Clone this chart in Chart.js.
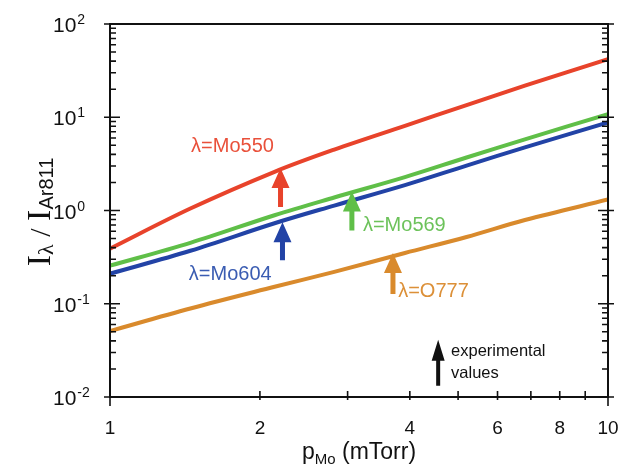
<!DOCTYPE html>
<html><head><meta charset="utf-8">
<script src="https://cdn.jsdelivr.net/npm/chart.js@4/dist/chart.umd.min.js"></script>
<style>html,body{margin:0;padding:0;background:#fff}#wrap{width:618px;height:470px;position:relative}</style>
</head><body><div id="wrap"><canvas id="c"></canvas></div>
<script>
// ---- data ----
const pressure = [1, 1.45, 2.14, 2.82, 3.91, 5.2, 6.81, 10];          // p_Mo (mTorr)
const mo550 = [0.39, 1.05, 2.6, 4.5, 8.1, 13.5, 21.8, 42];
const mo569 = [0.256, 0.45, 0.89, 1.38, 2.28, 3.7, 5.8, 10.8];
const mo604 = [0.21, 0.37, 0.73, 1.13, 1.87, 3.03, 4.75, 8.8];
const o777  = [0.051, 0.089, 0.152, 0.22, 0.35, 0.52, 0.79, 1.31];
const seriesNames = ['λ=Mo550', 'λ=Mo569', 'λ=Mo604', 'λ=O777'];
const xTickLabels = [1, 2, 4, 6, 8, 10];
const xMinorTicks = [3, 5, 7, 9];
const yTickExponents = [2, 1, 0, -1, -2];
// experimental values (arrow tips)
const expP    = [2.2, 3.06, 2.22, 3.7];
const expVal  = [2.85, 1.6, 0.75, 0.35];
const legendArrowP = 4.56, legendArrowVal = 0.041;
// label anchor positions (data coordinates)
const lblP = [1.455, 3.22, 1.44, 3.79];
const lblV = [4.87, 0.69, 0.205, 0.1346];

const colors = ['#e8432b', '#5fbf48', '#2243a6', '#d98a2c'];
const textColors = ['#e9503a', '#6cc25a', '#3a5cb2', '#dc9038'];
const seriesData = [mo550, mo569, mo604, o777];

const datasets = seriesData.map((arr, i) => ({
  label: seriesNames[i],
  data: pressure.map((p, j) => ({x: p, y: arr[j]})),
  borderColor: colors[i],
  borderWidth: 4,
  pointRadius: 0,
  fill: false,
  tension: 0.35
}));

function drawArrow(ctx, x, yTip, len, headH, headW, shaftW, color) {
  ctx.save();
  ctx.fillStyle = color;
  ctx.beginPath();
  ctx.moveTo(x, yTip);
  ctx.lineTo(x + headW / 2, yTip + headH);
  ctx.lineTo(x + shaftW / 2, yTip + headH);
  ctx.lineTo(x + shaftW / 2, yTip + len);
  ctx.lineTo(x - shaftW / 2, yTip + len);
  ctx.lineTo(x - shaftW / 2, yTip + headH);
  ctx.lineTo(x - headW / 2, yTip + headH);
  ctx.closePath();
  ctx.fill();
  ctx.restore();
}

const decor = {
  id: 'decor',
  afterDatasetsDraw(chart) {
    const {ctx, chartArea: a, scales: {x, y}} = chart;
    ctx.save();
    // frame
    ctx.strokeStyle = '#111';
    ctx.lineWidth = 2;
    ctx.strokeRect(a.left, a.top, a.right - a.left, a.bottom - a.top);
    ctx.lineWidth = 1.6;
    // y ticks (left and right, inward)
    for (let e = -2; e <= 2; e++) {
      for (let m = 1; m <= 9; m++) {
        const v = m * Math.pow(10, e);
        if (v > 100.0001) break;
        const py = y.getPixelForValue(v);
        const major = m === 1;
        const inL = major ? 10 : 6, outL = major ? 6 : 0;
        ctx.beginPath();
        ctx.moveTo(a.left - outL, py); ctx.lineTo(a.left + inL, py);
        ctx.moveTo(a.right + outL, py); ctx.lineTo(a.right - inL, py);
        ctx.stroke();
      }
    }
    // x ticks (bottom)
    const allX = xTickLabels.concat(xMinorTicks);
    allX.forEach(v => {
      const px = x.getPixelForValue(v);
      const out = (v === 1 || v === 10) ? 9 : 3;
      ctx.beginPath();
      ctx.moveTo(px, a.bottom - 6); ctx.lineTo(px, a.bottom + out);
      ctx.stroke();
    });
    // x tick labels
    ctx.fillStyle = '#111';
    ctx.font = '19px "Liberation Sans", Arial, sans-serif';
    ctx.textAlign = 'center';
    ctx.textBaseline = 'middle';
    xTickLabels.forEach(v => {
      ctx.fillText(String(v), x.getPixelForValue(v), a.bottom + 32);
    });
    // y tick labels with superscripts
    ctx.textAlign = 'left';
    ctx.textBaseline = 'alphabetic';
    yTickExponents.forEach(e => {
      const py = y.getPixelForValue(Math.pow(10, e));
      ctx.font = '21px "Liberation Sans", Arial, sans-serif';
      ctx.fillText('10', 53, py + 8);
      const w = ctx.measureText('10').width;
      ctx.font = '14px "Liberation Sans", Arial, sans-serif';
      ctx.fillText(e < 0 ? '-' + (-e) : String(e), 53 + w + 1, py);
    });
    // x title
    const parts = [
      {t: 'p', f: '23px "Liberation Sans", Arial, sans-serif', dy: 0},
      {t: 'Mo', f: '15px "Liberation Sans", Arial, sans-serif', dy: 5},
      {t: ' (mTorr)', f: '23px "Liberation Sans", Arial, sans-serif', dy: 0}
    ];
    let tw = 0;
    parts.forEach(p => { ctx.font = p.f; p.w = ctx.measureText(p.t).width; tw += p.w; });
    let cx = (a.left + a.right) / 2 - tw / 2;
    parts.forEach(p => { ctx.font = p.f; ctx.fillText(p.t, cx, 459 + p.dy); cx += p.w; });
    // y title (rotated)
    ctx.save();
    ctx.translate(50, 212);
    ctx.rotate(-Math.PI / 2);
    const yp = [
      {t: 'I', f: '34px "Liberation Serif", "Times New Roman", serif', dy: 0},
      {t: 'λ', f: '22px "Liberation Serif", "Times New Roman", serif', dy: 3},
      {t: ' / ', f: '30px "Liberation Serif", "Times New Roman", serif', dy: 0},
      {t: 'I', f: '34px "Liberation Serif", "Times New Roman", serif', dy: 0},
      {t: 'Ar811', f: '20px "Liberation Sans", Arial, sans-serif', dy: 3}
    ];
    tw = 0;
    yp.forEach(p => { ctx.font = p.f; p.w = ctx.measureText(p.t).width; tw += p.w; });
    cx = -tw / 2;
    yp.forEach(p => { ctx.font = p.f; ctx.fillText(p.t, cx, p.dy); cx += p.w; });
    ctx.restore();

    // experimental-value arrows
    const lens = [39, 39, 38, 41];
    expP.forEach((p, i) => {
      drawArrow(ctx, x.getPixelForValue(p), y.getPixelForValue(expVal[i]), lens[i], 20, 18, 5, colors[i]);
    });
    // series labels
    ctx.font = '20px "Liberation Sans", Arial, sans-serif';
    ctx.textBaseline = 'middle';
    ctx.textAlign = 'left';
    seriesNames.forEach((n, i) => {
      ctx.fillStyle = textColors[i];
      ctx.fillText(n, x.getPixelForValue(lblP[i]), y.getPixelForValue(lblV[i]));
    });
    // legend arrow
    drawArrow(ctx, x.getPixelForValue(legendArrowP), y.getPixelForValue(legendArrowVal), 46, 21, 13, 4, '#111');
    ctx.fillStyle = '#111';
    ctx.font = '16.5px "Liberation Sans", Arial, sans-serif';
    ctx.fillText('experimental', x.getPixelForValue(4.84), y.getPixelForValue(0.0305));
    ctx.fillText('values', x.getPixelForValue(4.84), y.getPixelForValue(0.0179));
    ctx.restore();
  }
};

new Chart(document.getElementById('c'), {
  type: 'line',
  data: {datasets},
  options: {
    responsive: true,
    maintainAspectRatio: false,
    animation: false,
    layout: {padding: {left: 110, right: 10, top: 24, bottom: 73}},
    plugins: {legend: {display: false}, tooltip: {enabled: false}},
    scales: {
      x: {type: 'logarithmic', min: 1, max: 10, display: false},
      y: {type: 'logarithmic', min: 0.01, max: 100, display: false}
    }
  },
  plugins: [decor]
});
</script>
</body></html>
